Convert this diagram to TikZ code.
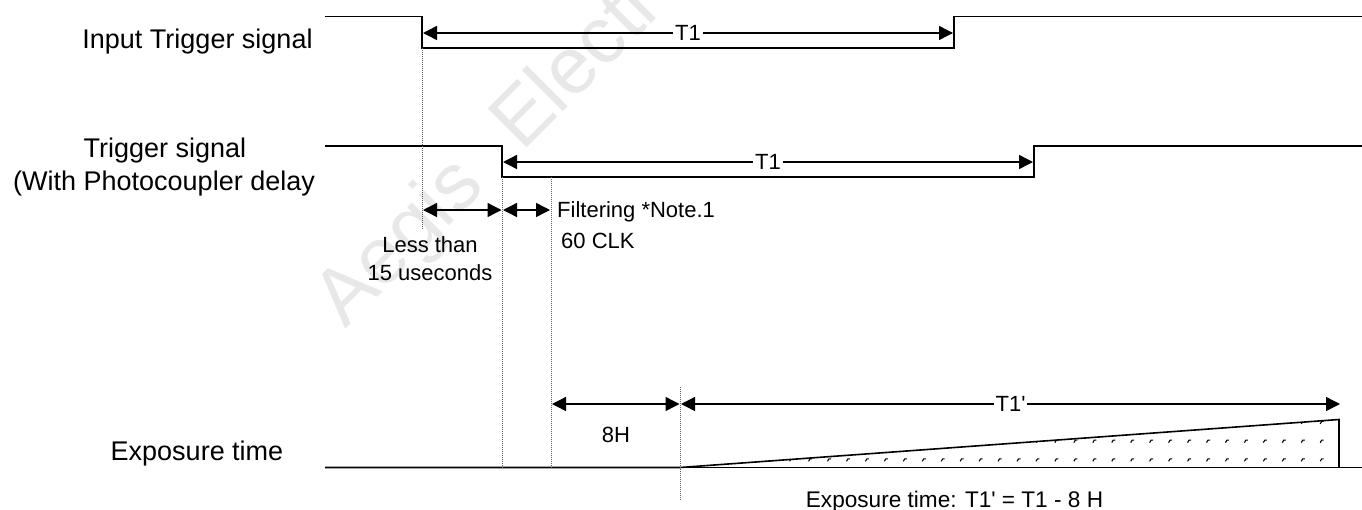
\documentclass[tikz,border=0pt]{standalone}
\usepackage{fontspec}
\setmainfont{Liberation Sans}
\usepackage{xcolor}
\usetikzlibrary{arrows.meta,positioning,calc}
\definecolor{mark}{HTML}{E8E8E8}
\definecolor{guide}{HTML}{5E5E5E}

\begin{document}
\begin{tikzpicture}[
  x=1pt,y=-1pt,
  sig/.style={draw=black,line width=1.6pt},
  arr/.style={{Triangle[length=14pt,width=14pt]}-{Triangle[length=14pt,width=14pt]},draw=black,line width=1.4pt},
  gline/.style={draw=guide,line width=1pt,densely dotted},
  biglbl/.style={font=\fontsize{27}{27}\selectfont,anchor=base,inner sep=0pt},
  lbl/.style={font=\fontsize{22}{22}\selectfont,anchor=base,inner sep=0pt},
  onarr/.style={font=\fontsize{22}{22}\selectfont,fill=white,inner sep=2pt,midway}
]
\useasboundingbox (0,0) rectangle (1362,509);
\node[font=\fontsize{80}{80}\selectfont,color=mark,rotate=45,anchor=base west,inner sep=0pt] (wm) at (345,330) {Aegis\hspace{28pt} Electro};

% input trigger
\coordinate (a0) at (325,16.5);
\coordinate (a1) at (422,16.5);
\coordinate (a2) at (422,48);
\coordinate (a3) at (954,48);
\coordinate (a4) at (954,16.5);
\coordinate (a5) at (1362,16.5);
\draw[sig] (a0) -- (a1) -- (a2) -- (a3) -- (a4) -- (a5);

% trigger with delay
\coordinate (b0) at (325,146);
\coordinate (b1) at (502,146);
\coordinate (b2) at (502,177);
\coordinate (b3) at (1034,177);
\coordinate (b4) at (1034,146);
\coordinate (b5) at (1362,146);
\draw[sig] (b0) -- (b1) -- (b2) -- (b3) -- (b4) -- (b5);

% exposure
\coordinate (c0) at (325,467.5);
\coordinate (c1) at (680,467.5);
\coordinate (c2) at (1339,419.5);
\coordinate (c3) at (1339,467.5);
\coordinate (c4) at (1362,467.5);
\draw[sig] (c0) -- (c1) -- (c2) -- (c3);
\draw[sig] (c1) -- (c3) -- (c4);
\begin{scope}
\clip (c1) -- (c2) -- (c3) -- cycle;
\foreach \col in {0,...,33}
  \foreach \row in {0,1,2}
    \draw[black,line width=1.1pt] ($(1321.7,459.3)+(-18.95*\col,-18.7*\row)$) ++(-1.5,2) -- ++(1.5,-2.5) -- ++(2,0);
\end{scope}

% guides
\coordinate (g1) at (422,230);
\coordinate (g2) at (502,467.5);
\coordinate (g3t) at (551,177);
\coordinate (g3) at (551,467.5);
\coordinate (g4t) at (680,387);
\coordinate (g4) at (680,500);
\draw[gline] (a2) -- (g1);
\draw[gline] (b2) -- (g2);
\draw[gline] (g3t) -- (g3);
\draw[gline] (g4t) -- (g4);

% arrows
\coordinate (d1a) at (423,33);
\coordinate (d1b) at (953,33);
\coordinate (d2a) at (503,162);
\coordinate (d2b) at (1033,162);
\coordinate (d3a) at (423,210);
\coordinate (d3b) at (501.5,210);
\coordinate (d4a) at (503,210);
\coordinate (d4b) at (550,210);
\coordinate (d5a) at (552,404);
\coordinate (d5b) at (679.5,404);
\coordinate (d6a) at (681,404);
\coordinate (d6b) at (1340,404);
\draw[arr] (d1a) -- node[onarr] (t1a) {T1} (d1b);
\draw[arr] (d2a) -- node[onarr] (t1b) {T1} (d2b);
\draw[arr] (d3a) -- (d3b);
\draw[arr] (d4a) -- (d4b);
\draw[arr] (d5a) -- (d5b);
\draw[arr] (d6a) -- node[onarr] (t1c) {T1\textquotesingle} (d6b);

% labels
\node[biglbl] (l1) at (197.5,48) {Input Trigger signal};
\node[biglbl] (l2) at (165,157) {Trigger signal};
\node[biglbl,anchor=base west] (l3) at (13,190) {(With Photocoupler delay};
\node[biglbl] (l4) at (197,460) {Exposure time};
\node[lbl] (n1) at (430,252) {Less than};
\node[lbl] (n2) at (430,280) {15 useconds};
\node[lbl,anchor=base west] (n3) at (557,217) {Filtering *Note.1};
\node[lbl,anchor=base west] (n4) at (561,248) {60 CLK};
\node[lbl] (n5) at (616,442) {8H};
\node[lbl,font=\fontsize{22.6}{22.6}\selectfont] (n6) at (954.5,507) {Exposure time: T1\textquotesingle{} = T1 - 8 H};
\end{tikzpicture}
\end{document}
